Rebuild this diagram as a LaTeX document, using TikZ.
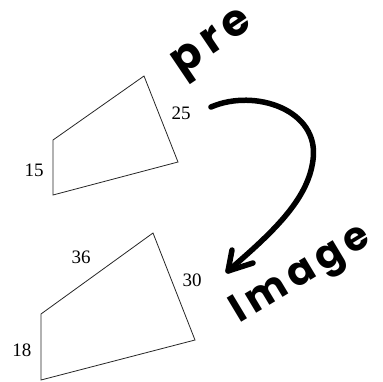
\documentclass[tikz,border=0pt]{standalone}
\usepackage{fontspec}
\setmainfont{Liberation Serif}
\newfontfamily\hand[LetterSpace=14]{Poppins}
\begin{document}
\begin{tikzpicture}[x=1pt,y=-1pt]
\tikzset{
  quadline/.style={draw=black!85, line width=0.8pt, line join=miter},
  lbl/.style={font=\fontsize{19}{19}\selectfont, inner sep=0pt},
  ink/.style={draw=black, line width=5.5pt, line cap=round, line join=round},
  handtext/.style={font=\hand\bfseries\fontsize{44}{44}\selectfont, inner sep=0pt}
}
\useasboundingbox (0,0) rectangle (383,381);
% pre-image
\coordinate (a1) at (53,140);
\coordinate (a2) at (144,76);
\coordinate (a3) at (178,162);
\coordinate (a4) at (53,195);
\draw[quadline] (a1) -- (a2) -- (a3) -- (a4) -- cycle;
\node[lbl] (l15) at (34,170) {15};
\node[lbl] (l25) at (181,113) {25};
% image
\coordinate (b1) at (41,314);
\coordinate (b2) at (153,233);
\coordinate (b3) at (195,340);
\coordinate (b4) at (41,380);
\draw[quadline] (b1) -- (b2) -- (b3) -- (b4) -- cycle;
\node[lbl] (l36) at (81,257) {36};
\node[lbl] (l30) at (192,280) {30};
\node[lbl] (l18) at (22,350) {18};
% handwritten labels
\node[handtext, rotate=34] (pre) at (214,46) {pre};
\node[handtext, rotate=31, font=\hand\bfseries\fontsize{40}{40}\selectfont] (img) at (302,276) {Image};
% arrow
\coordinate (s) at (211,107);
\coordinate (t) at (228,271);
\coordinate (h1) at (232,250);
\coordinate (h2) at (253,263);
\draw[ink] (s) .. controls (255,88) and (320,110) .. (313,160) .. controls (308,200) and (272,233) .. (t);
\draw[ink] (h1) -- (t) -- (h2);
\end{tikzpicture}
\end{document}
